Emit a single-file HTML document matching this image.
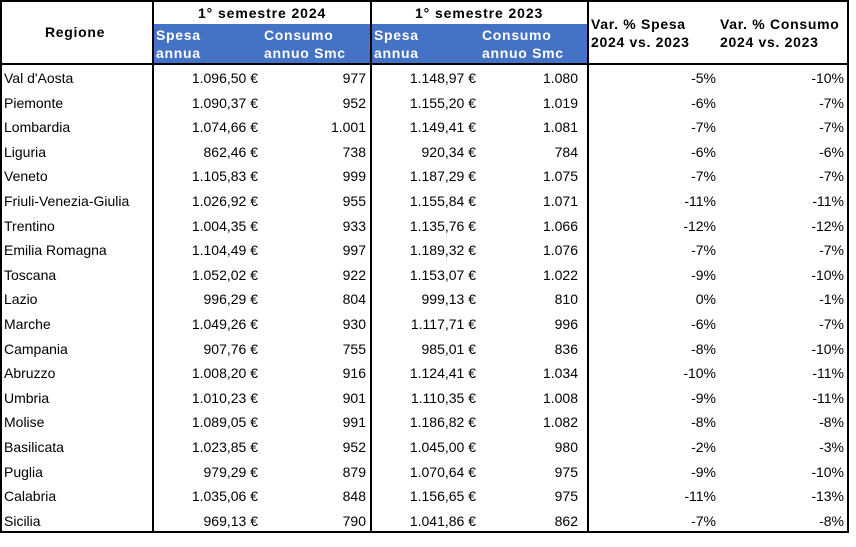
<!DOCTYPE html>
<html><head><meta charset="utf-8"><style>
body{margin:0;width:856px;height:547px;background:#fff;font-family:"Liberation Sans",Arial,sans-serif;font-size:14px;color:#000;position:relative;overflow:hidden}
.hl{position:absolute;background:#000;height:2px}
.vl{position:absolute;background:#000;width:2px}
.blue{position:absolute;background:#4472C4}
.h{font-weight:bold;letter-spacing:0.7px;position:absolute;white-space:nowrap}
.w{color:#fff}
.row{position:absolute;left:0;width:848px;height:24.63px;line-height:24.63px}
.row span{position:absolute;white-space:nowrap}
</style></head><body>
<div class="blue" style="left:153px;top:24px;width:435px;height:40px"></div>
<div class="hl" style="left:0;top:0;width:849px"></div>
<div class="hl" style="left:0;top:63px;width:849px"></div>
<div class="hl" style="left:0;top:531px;width:849px"></div>
<div class="vl" style="left:0;top:0;height:533px"></div>
<div class="vl" style="left:152px;top:0;height:533px"></div>
<div class="vl" style="left:370px;top:0;height:533px"></div>
<div class="vl" style="left:587px;top:0;height:533px"></div>
<div class="vl" style="left:847px;top:0;height:533px"></div>
<div class="h" style="left:45px;top:24px">Regione</div>
<div class="h" style="left:198px;top:5px;letter-spacing:0.9px">1° semestre 2024</div>
<div class="h" style="left:415px;top:5px;letter-spacing:0.9px">1° semestre 2023</div>
<div class="h w" style="left:156px;top:27px">Spesa</div>
<div class="h w" style="left:156px;top:45px">annua</div>
<div class="h w" style="left:264px;top:27px">Consumo</div>
<div class="h w" style="left:264px;top:45px">annuo Smc</div>
<div class="h w" style="left:374px;top:27px">Spesa</div>
<div class="h w" style="left:374px;top:45px">annua</div>
<div class="h w" style="left:482px;top:27px">Consumo</div>
<div class="h w" style="left:482px;top:45px">annuo Smc</div>
<div class="h" style="left:591px;top:16px">Var. % Spesa</div>
<div class="h" style="left:591px;top:34px">2024 vs. 2023</div>
<div class="h" style="left:720px;top:16px">Var. % Consumo</div>
<div class="h" style="left:720px;top:34px">2024 vs. 2023</div>
<div id="rows"></div>
<script>
var d=[["Val d'Aosta","1.096,50 €","977","1.148,97 €","1.080","-5%","-10%"],
["Piemonte","1.090,37 €","952","1.155,20 €","1.019","-6%","-7%"],
["Lombardia","1.074,66 €","1.001","1.149,41 €","1.081","-7%","-7%"],
["Liguria","862,46 €","738","920,34 €","784","-6%","-6%"],
["Veneto","1.105,83 €","999","1.187,29 €","1.075","-7%","-7%"],
["Friuli-Venezia-Giulia","1.026,92 €","955","1.155,84 €","1.071","-11%","-11%"],
["Trentino","1.004,35 €","933","1.135,76 €","1.066","-12%","-12%"],
["Emilia Romagna","1.104,49 €","997","1.189,32 €","1.076","-7%","-7%"],
["Toscana","1.052,02 €","922","1.153,07 €","1.022","-9%","-10%"],
["Lazio","996,29 €","804","999,13 €","810","0%","-1%"],
["Marche","1.049,26 €","930","1.117,71 €","996","-6%","-7%"],
["Campania","907,76 €","755","985,01 €","836","-8%","-10%"],
["Abruzzo","1.008,20 €","916","1.124,41 €","1.034","-10%","-11%"],
["Umbria","1.010,23 €","901","1.110,35 €","1.008","-9%","-11%"],
["Molise","1.089,05 €","991","1.186,82 €","1.082","-8%","-8%"],
["Basilicata","1.023,85 €","952","1.045,00 €","980","-2%","-3%"],
["Puglia","979,29 €","879","1.070,64 €","975","-9%","-10%"],
["Calabria","1.035,06 €","848","1.156,65 €","975","-11%","-13%"],
["Sicilia","969,13 €","790","1.041,86 €","862","-7%","-8%"]];
var rights=[258,366,476,578,716,844],h="";
d.forEach(function(r,i){
 h+='<div class="row" style="top:'+(66+i*24.6)+'px"><span style="left:4px">'+r[0]+'</span>';
 for(var j=1;j<7;j++)h+='<span style="right:'+(848-rights[j-1])+'px">'+r[j]+'</span>';
 h+='</div>';});
document.getElementById('rows').innerHTML=h;
</script>
</body></html>
